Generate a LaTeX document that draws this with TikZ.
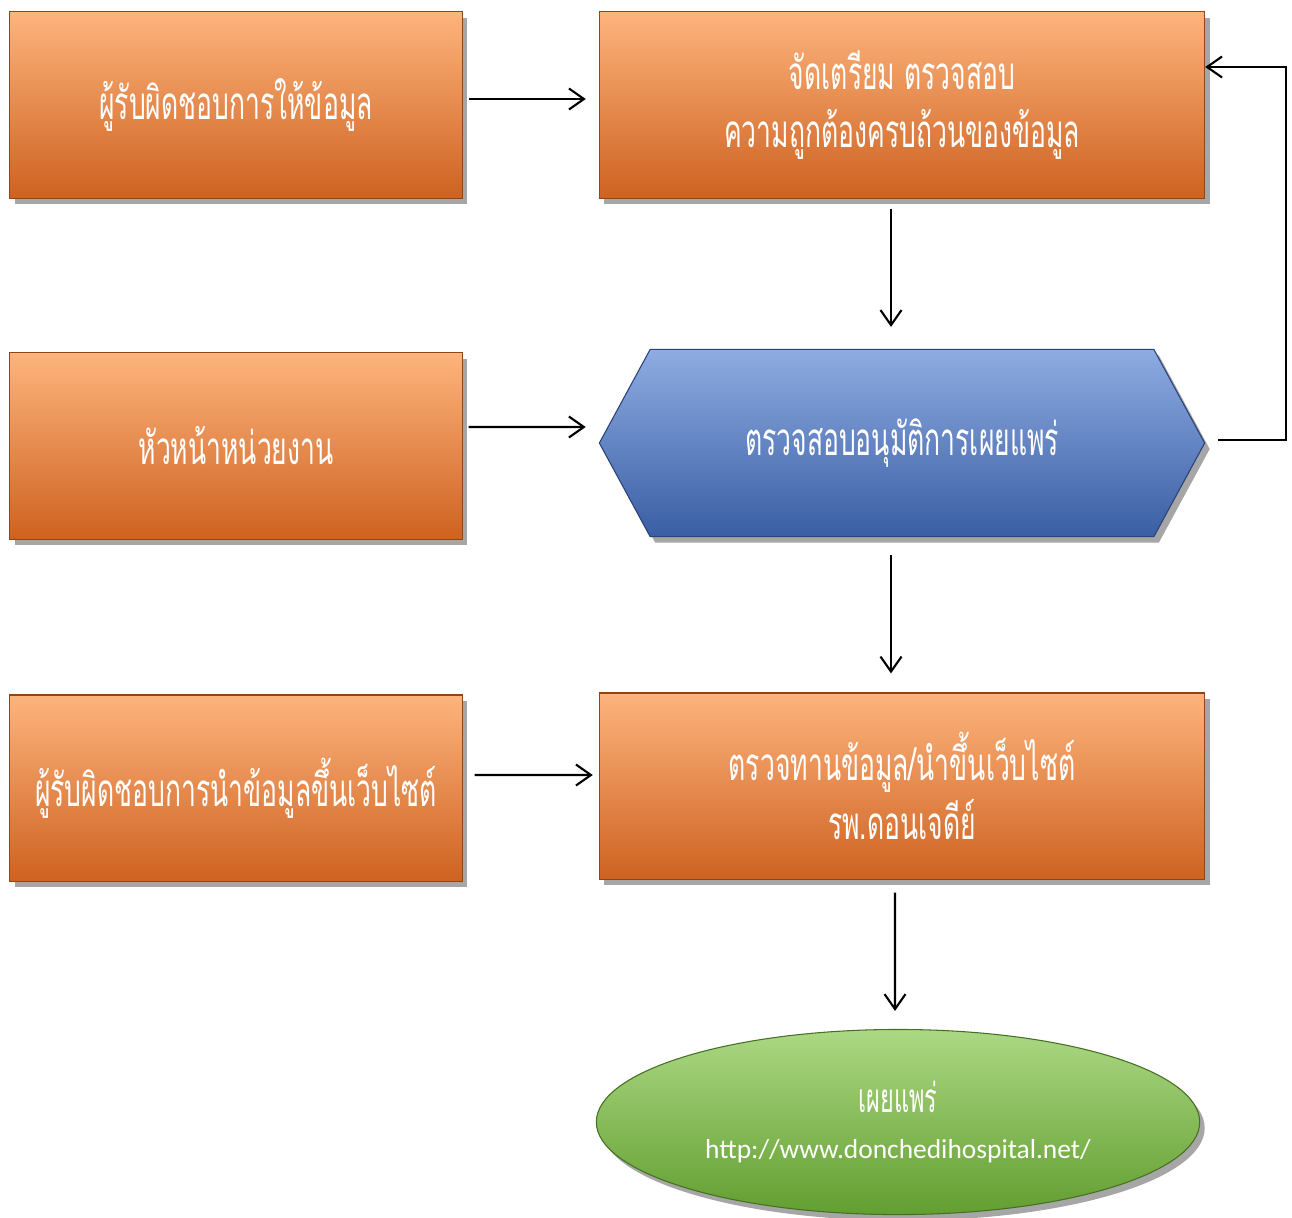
\documentclass[tikz,border=0pt]{standalone}
\usepackage{fontspec}
\setmainfont{Carlito}
\newfontfamily\thaifont[Script=Thai,FakeStretch=0.58]{Loma}
\usepackage{tikz}
\usetikzlibrary{positioning}
\usetikzlibrary{shapes.geometric, shapes.symbols, arrows.meta, shadows}

\definecolor{boxtop}{RGB}{253,180,125}
\definecolor{boxmid}{RGB}{249,140,62}
\definecolor{boxbot}{RGB}{206,98,32}
\definecolor{hextop}{RGB}{142,172,226}
\definecolor{hexmid}{RGB}{88,132,212}
\definecolor{hexbot}{RGB}{58,94,164}
\definecolor{ovaltop}{RGB}{172,216,132}
\definecolor{ovalmid}{RGB}{140,196,82}
\definecolor{ovalbot}{RGB}{98,158,48}

\begin{document}
\begin{tikzpicture}[x=0.01cm,y=-0.01cm,
    shade3/.style n args={3}{top color=#1,middle color=#2,bottom color=#3},
    soft/.style={drop shadow={shadow xshift=0.05cm,shadow yshift=-0.06cm,opacity=0.35,fill=black}},
    task/.style={rectangle,soft,shade3={boxtop}{boxmid}{boxbot},draw=boxbot!70!black,line width=0.3pt,
        minimum width=4.52cm,minimum height=1.86cm,inner sep=0pt,text=white,align=center,
        font=\thaifont\fontsize{13}{16}\selectfont},
    wide/.style={task,minimum width=6.05cm},
    approve/.style={signal,signal to=east and west,signal pointer angle=123,soft,
        shade3={hextop}{hexmid}{hexbot},draw=hexbot!70!black,line width=0.3pt,
        minimum width=6.05cm,minimum height=1.87cm,inner sep=0pt,text=white,
        font=\thaifont\fontsize{13}{16}\selectfont},
    publish/.style={ellipse,soft,shade3={ovaltop}{ovalmid}{ovalbot},draw=ovalbot!70!black,line width=0.3pt,
        minimum width=6.03cm,minimum height=1.85cm,inner sep=0pt,text=white,align=center},
    arr/.style={-{Straight Barb[length=0.15cm,width=0.21cm]},line width=0.6pt}]
    \useasboundingbox (0,0) rectangle (1292,1217);
    % Left column
    \node[task] (giver) at (236,105) {ผู้รับผิดชอบการให้ข้อมูล};
    \node[task] (head) at (236,446) {หัวหน้าหน่วยงาน};
    \node[task] (webadmin) at (236,788) {ผู้รับผิดชอบการนำข้อมูลขึ้นเว็บไซต์};
    % Right column
    \node[wide] (prepare) at (902,105) {จัดเตรียม ตรวจสอบ\\[0.02cm]ความถูกต้องครบถ้วนของข้อมูล};
    \node[approve] (approve) at (902,443) {ตรวจสอบอนุมัติการเผยแพร่};
    \node[wide] (review) at (902,786) {ตรวจทานข้อมูล/นำขึ้นเว็บไซต์\\[0.02cm]รพ.ดอนเจดีย์};
    \node[publish] (web) at (898,1122) {{\thaifont\fontsize{11.5}{12}\selectfont เผยแพร่}\\[0.04cm]
        {\fontsize{7.8}{12}\selectfont http://www.donchedihospital.net/}};
    % Arrows
    \draw[arr,shorten <=0.06cm,shorten >=0.13cm] ([yshift=0.06cm]giver.east) -- ([yshift=0.06cm]prepare.west);
    \draw[arr,shorten <=0.06cm,shorten >=0.13cm] ([yshift=0.19cm]head.east) -- ([yshift=0.16cm]approve.west);
    \draw[arr,shorten <=0.12cm,shorten >=0.06cm] ([yshift=0.13cm]webadmin.east) -- ([yshift=0.11cm]review.west);
    \draw[arr,shorten <=0.10cm,shorten >=0.22cm] ([xshift=-0.11cm]prepare.south) -- ([xshift=-0.11cm]approve.north);
    \draw[arr,shorten <=0.18cm,shorten >=0.19cm] ([xshift=-0.11cm]approve.south) -- ([xshift=-0.11cm]review.north);
    \draw[arr,shorten <=0.13cm,shorten >=0.18cm] ([xshift=-0.07cm]review.south) -- ([xshift=-0.03cm]web.north);
    % Feedback loop
    \draw[arr] ([xshift=0.13cm,yshift=0.03cm]approve.east) -- ++(68,0) |- ([yshift=0.38cm]prepare.east);
\end{tikzpicture}
\end{document}
